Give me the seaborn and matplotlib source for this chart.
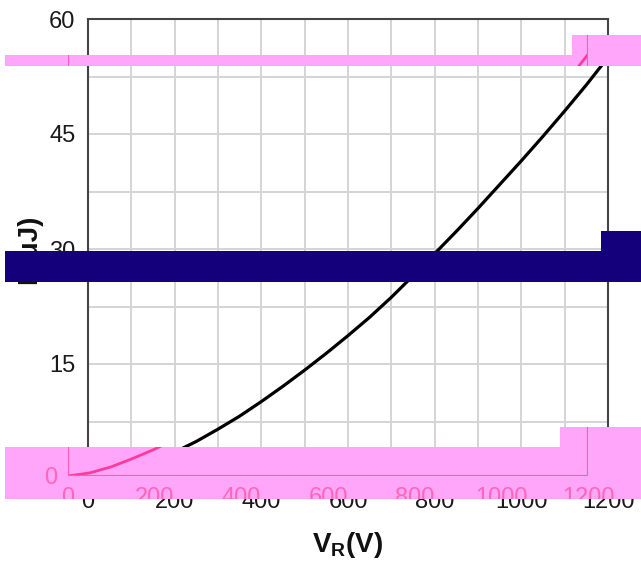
import numpy as np
import pandas as pd
import matplotlib
matplotlib.use("Agg")
import matplotlib.pyplot as plt
import seaborn as sns
from matplotlib.patches import Rectangle
from matplotlib.path import Path
from matplotlib.transforms import Bbox, TransformedBbox

# ---- data ----
voltage = [0, 50, 100, 150, 200, 250, 300, 350, 400, 450, 500, 550, 600,
           650, 700, 750, 800, 850, 900, 950, 1000, 1050, 1100, 1150, 1200]
energy = [0.0, 0.4, 1.2, 2.3, 3.5, 4.9, 6.5, 8.2, 10.1, 12.1, 14.2, 16.4, 18.7,
          21.1, 23.7, 26.5, 29.4, 32.3, 35.3, 38.4, 41.5, 44.7, 48.0, 51.4, 55.0]
x_ticks = [0, 200, 400, 600, 800, 1000, 1200]
y_ticks = [0, 15, 30, 45, 60]
x_label = r"$\mathbf{V_R(V)}$"
y_label = "E(μJ)"

df = pd.DataFrame({"V": voltage, "E": energy})

sns.set_style("white")
plt.rcParams["font.family"] = ["Liberation Sans", "DejaVu Sans"]
plt.rcParams["mathtext.fontset"] = "custom"
plt.rcParams["mathtext.bf"] = "Liberation Sans:bold"
plt.rcParams["mathtext.rm"] = "Liberation Sans"

W, H = 641, 562
fig = plt.figure(figsize=(W / 100, H / 100), dpi=100)
fig.patch.set_facecolor("white")

L, R, T, B = 88, 608, 19, 479


def style_axes(ax, line_col, text_col, grid=True, pad=10):
    ax.set_xlim(0, 1200)
    ax.set_ylim(0, 60)
    ax.set_xticks(x_ticks)
    ax.set_yticks(y_ticks)
    ax.set_xticks(np.arange(0, 1201, 100), minor=True)
    ax.set_yticks(np.arange(0, 60.1, 7.5), minor=True)
    ax.tick_params(which="both", length=0, labelsize=17, colors=text_col, pad=pad)
    if grid:
        ax.grid(which="both", color="#d4d4d4", linewidth=1.4)
    else:
        ax.grid(False)
    for s in ax.spines.values():
        s.set_color(line_col)
        s.set_linewidth(1.5)
        s.set_visible(True)


ax = fig.add_axes([L / W, 1 - B / H, (R - L) / W, (B - T) / H])
ax.set_facecolor("white")
ax.set_zorder(0)
sns.lineplot(data=df, x="V", y="E", ax=ax, color="black", linewidth=2.3)
style_axes(ax, "#444444", "#1a1a1a", pad=9)
ax.set_axisbelow(True)
ax.set_xlabel(x_label, fontsize=20, labelpad=12, color="#111111")
ax.set_ylabel(y_label, fontsize=20, fontweight="bold", labelpad=5, color="#111111")

# ---- overlay bands (image artefacts in the reference) ----
pink = "#ffa6fa"
navy = "#13007a"


def rect_px(x0, y0, x1, y1, color, z=2):
    r = Rectangle((x0 / W, 1 - y1 / H), (x1 - x0) / W, (y1 - y0) / H,
                  transform=fig.transFigure, facecolor=color, edgecolor="none",
                  zorder=z)
    fig.add_artist(r)
    return r


pink_rects = [(5, 55, 641, 66), (572, 35, 641, 55),
              (5, 447, 641, 499), (560, 427, 641, 447)]
for rr in pink_rects:
    rect_px(*rr, pink)
rect_px(5, 251, 641, 282, navy)
rect_px(601, 231, 641, 251, navy)

# ---- shifted pink copy visible inside the pink bands ----
dx, dy = -20, 3
ax2 = fig.add_axes([(L + dx) / W, 1 - (B - dy) / H, (R - L) / W, (B - T) / H])
ax2.set_zorder(5)
ax2.patch.set_visible(False)
sns.lineplot(data=df, x="V", y="E", ax=ax2, color="#ff3a9a", linewidth=2.0)
style_axes(ax2, "#ff5cb0", "#ff66b8", grid=False, pad=8)
ax2.set_xlabel("")
ax2.set_ylabel("")

verts, codes = [], []
for (x0, y0, x1, y1) in pink_rects:
    pts = [(x0 / W, 1 - y0 / H), (x1 / W, 1 - y0 / H), (x1 / W, 1 - y1 / H),
           (x0 / W, 1 - y1 / H), (x0 / W, 1 - y0 / H)]
    verts += pts
    codes += [Path.MOVETO, Path.LINETO, Path.LINETO, Path.LINETO, Path.CLOSEPOLY]
clip = Path(verts, codes)

fig.canvas.draw()
for a in list(ax2.lines) + list(ax2.spines.values()):
    a.set_clip_path(clip, fig.transFigure)
    a.set_clip_on(True)

# text can only be clipped to a rectangle: the lower pink band
bx0, by0, bx1, by1 = pink_rects[2]
text_box = TransformedBbox(Bbox.from_extents(bx0 / W, 1 - by1 / H, bx1 / W, 1 - by0 / H),
                           fig.transFigure)
for t in ax2.get_xticklabels() + ax2.get_yticklabels():
    t.set_clip_box(text_box)
    t.set_clip_on(True)

fig.savefig("out.png", dpi=100, facecolor="white")
